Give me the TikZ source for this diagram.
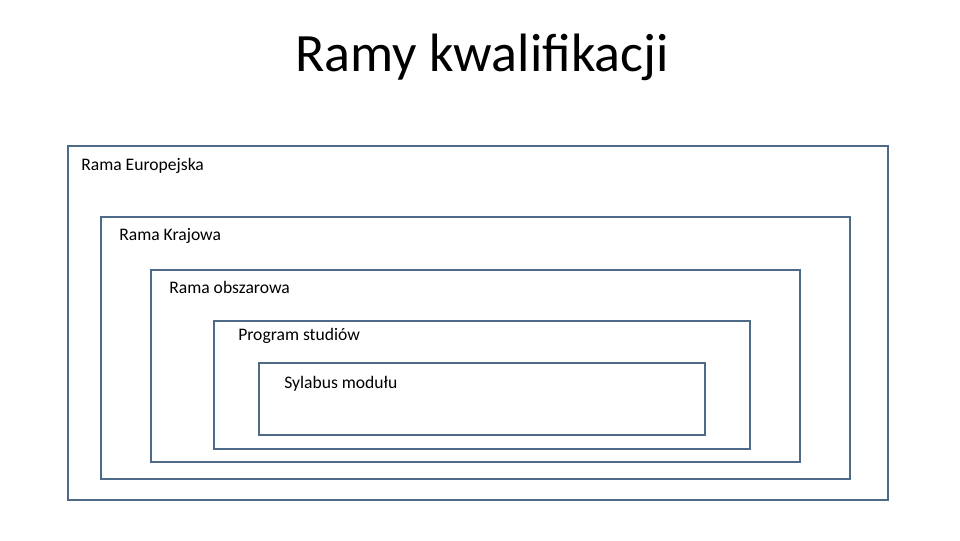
\documentclass[tikz,border=0pt]{standalone}
\usepackage{fontspec}
\setmainfont{Carlito}
\definecolor{framecol}{RGB}{77,106,135}
\begin{document}
\begin{tikzpicture}[x=0.75pt,y=-0.75pt]
            \tikzstyle{every node}+=[inner sep=0pt]
            \tikzstyle{frame}=[draw=framecol,line width=1.5pt]
            \tikzstyle{label}=[anchor=west,font=\fontsize{13.2}{15}\selectfont]
                \useasboundingbox (0,0) rectangle (960,540);
                \node (title) at (482,57) {\fontsize{40.5}{44}\selectfont Ramy kwalifikacji};
                % nested frames
                \draw [frame] (68,146) rectangle (888,500);
                \node [label] (europe) at (81,166) {Rama Europejska};
                \draw [frame] (101,217) rectangle (850,479);
                \node [label] (country) at (119,236) {Rama Krajowa};
                \draw [frame] (151,270) rectangle (800,462);
                \node [label] (area) at (169,287) {Rama obszarowa};
                \draw [frame] (214,321) rectangle (750,449);
                \node [label] (program) at (238,336) {Program studiów};
                \draw [frame] (259,363) rectangle (705,435);
                \node [label] (module) at (284,384) {Sylabus modułu};
            \end{tikzpicture}
\end{document}
